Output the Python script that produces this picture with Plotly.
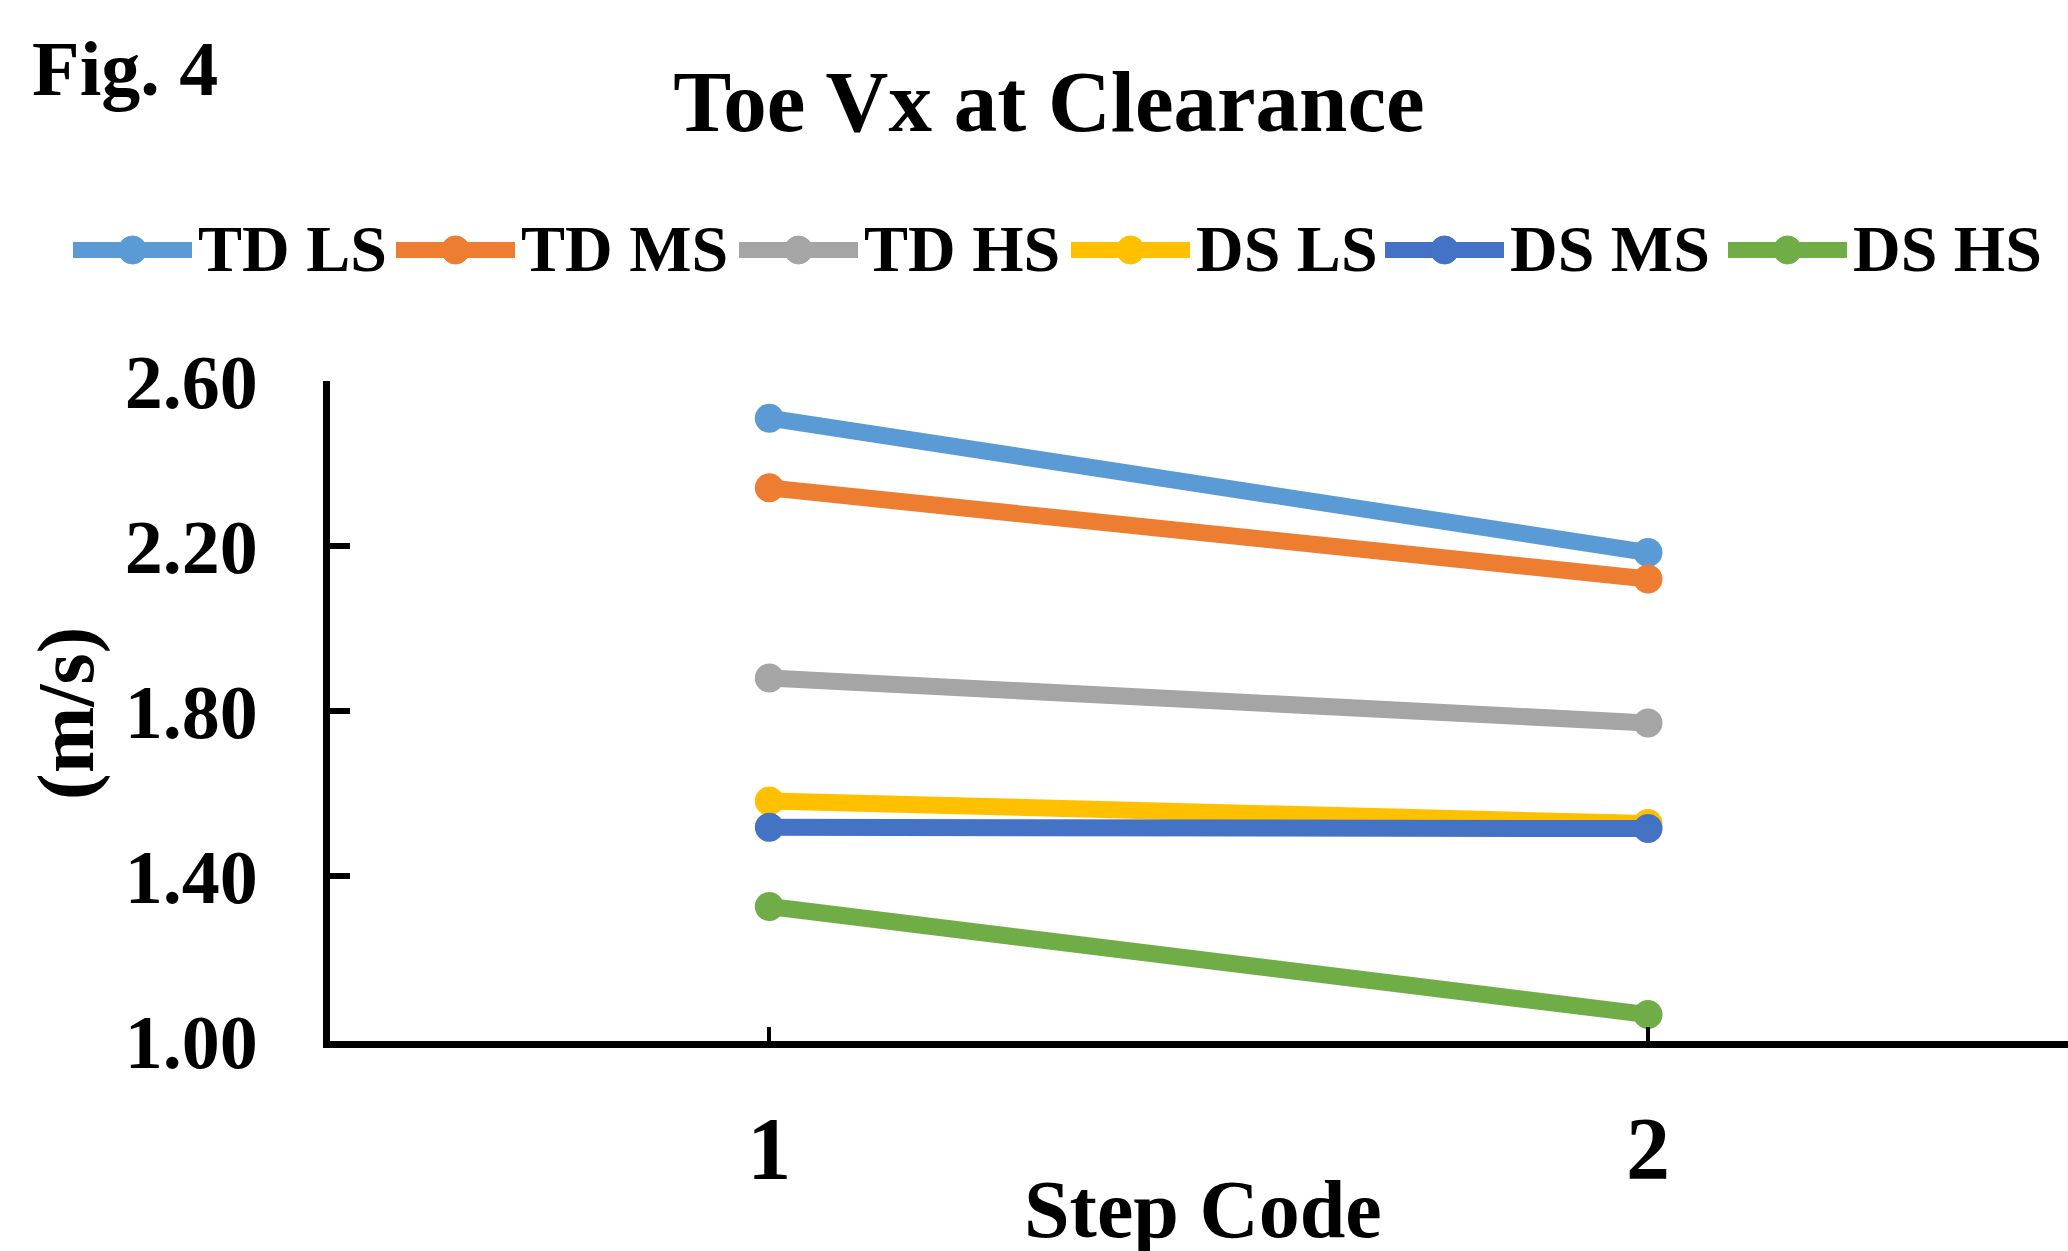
import plotly.graph_objects as go

# ---------------- data ----------------
steps = [1, 2]
x_tick_text = ["1", "2"]
series_names = ["TD LS", "TD MS", "TD HS", "DS LS", "DS MS", "DS HS"]
td_ls = [2.510, 2.184]
td_ms = [2.341, 2.120]
td_hs = [1.880, 1.771]
ds_ls = [1.582, 1.527]
ds_ms = [1.518, 1.515]
ds_hs = [1.326, 1.064]
series_values = [td_ls, td_ms, td_hs, ds_ls, ds_ms, ds_hs]
colors = ["#5B9BD5", "#ED7D31", "#A5A5A5", "#FFC000", "#4472C4", "#70AD47"]
y_ticks = [1.00, 1.40, 1.80, 2.20, 2.60]
y_tick_text = ["1.00", "1.40", "1.80", "2.20", "2.60"]

# ---------------- layout geometry (pixels) ----------------
W, H = 2068, 1251
L, R, T, B = 330, 0, 381, 210
PW = W - L - R
PH = H - T - B
FONT = "Liberation Serif"


def px(xp, yp):
    return (xp - L) / PW, (H - B - yp) / PH


fig = go.Figure()
for name, vals, col in zip(series_names, series_values, colors):
    fig.add_trace(go.Scatter(
        x=steps, y=vals, name=name, mode="lines+markers",
        line=dict(color=col, width=17),
        marker=dict(color=col, size=29),
        showlegend=False, cliponaxis=False,
    ))

# custom legend (long line symbols like the original)
legend_starts = [73, 396, 739, 1071, 1385, 1728]
legend_y = 250
line_len = 119
text_gap = 123
shapes = []
annotations = []
for name, col, x0 in zip(series_names, colors, legend_starts):
    ax0, ay = px(x0, legend_y)
    ax1, _ = px(x0 + line_len, legend_y)
    axm, _ = px(x0 + line_len / 2, legend_y)
    shapes.append(dict(type="line", xref="paper", yref="paper",
                       x0=ax0, x1=ax1, y0=ay, y1=ay,
                       line=dict(color=col, width=16)))
    shapes.append(dict(type="circle", xref="paper", yref="paper",
                       xsizemode="pixel", ysizemode="pixel",
                       xanchor=axm, yanchor=ay,
                       x0=-14, x1=14, y0=-14, y1=14,
                       fillcolor=col, line=dict(color=col, width=1)))
    tx, ty = px(x0 + text_gap, legend_y - 2)
    annotations.append(dict(text=name, xref="paper", yref="paper",
                            x=tx, y=ty, xanchor="left", yanchor="middle",
                            showarrow=False,
                            font=dict(family=FONT, size=66, color="black", weight="bold")))

# Fig. 4 label
fx, fy = px(30, 68)
annotations.append(dict(text="Fig. 4", xref="paper", yref="paper", x=fx, y=fy,
                        xanchor="left", yanchor="middle", showarrow=False,
                        font=dict(family=FONT, size=78, color="black", weight="bold")))
# y title
yx, yy = px(66, 714)
annotations.append(dict(text="(m/s)", xref="paper", yref="paper", x=yx, y=yy,
                        xanchor="center", yanchor="middle", textangle=-90, showarrow=False,
                        font=dict(family=FONT, size=80, color="black", weight="bold")))
# x title
sx, sy = px(1203, 1209)
annotations.append(dict(text="Step Code", xref="paper", yref="paper", x=sx, y=sy,
                        xanchor="center", yanchor="middle", showarrow=False,
                        font=dict(family=FONT, size=82, color="black", weight="bold")))

fig.update_layout(
    width=W, height=H,
    margin=dict(l=L, r=R, t=T, b=B, pad=0),
    paper_bgcolor="white", plot_bgcolor="white",
    showlegend=False,
    title=dict(text="Toe Vx at Clearance", xref="container", yref="container",
               x=1049 / W, y=1 - 101 / H, xanchor="center", yanchor="middle",
               font=dict(family=FONT, size=87, color="black", weight="bold")),
    shapes=shapes,
    annotations=annotations,
    xaxis=dict(range=[0.5, 2.478], tickvals=steps, ticktext=x_tick_text,
               showline=True, linecolor="black", linewidth=7,
               ticks="inside", ticklen=14, tickwidth=4, tickcolor="black",
               showgrid=False, zeroline=False, ticklabelstandoff=24,
               tickfont=dict(family=FONT, size=88, color="black", weight="bold")),
    yaxis=dict(range=[1.0, 2.6], tickvals=y_ticks, ticktext=y_tick_text,
               showline=True, linecolor="black", linewidth=7,
               ticks="inside", ticklen=20, tickwidth=6, tickcolor="black",
               showgrid=False, zeroline=False, ticklabelstandoff=50,
               tickfont=dict(family=FONT, size=76, color="black", weight="bold")),
)

fig.write_html("out.html")
